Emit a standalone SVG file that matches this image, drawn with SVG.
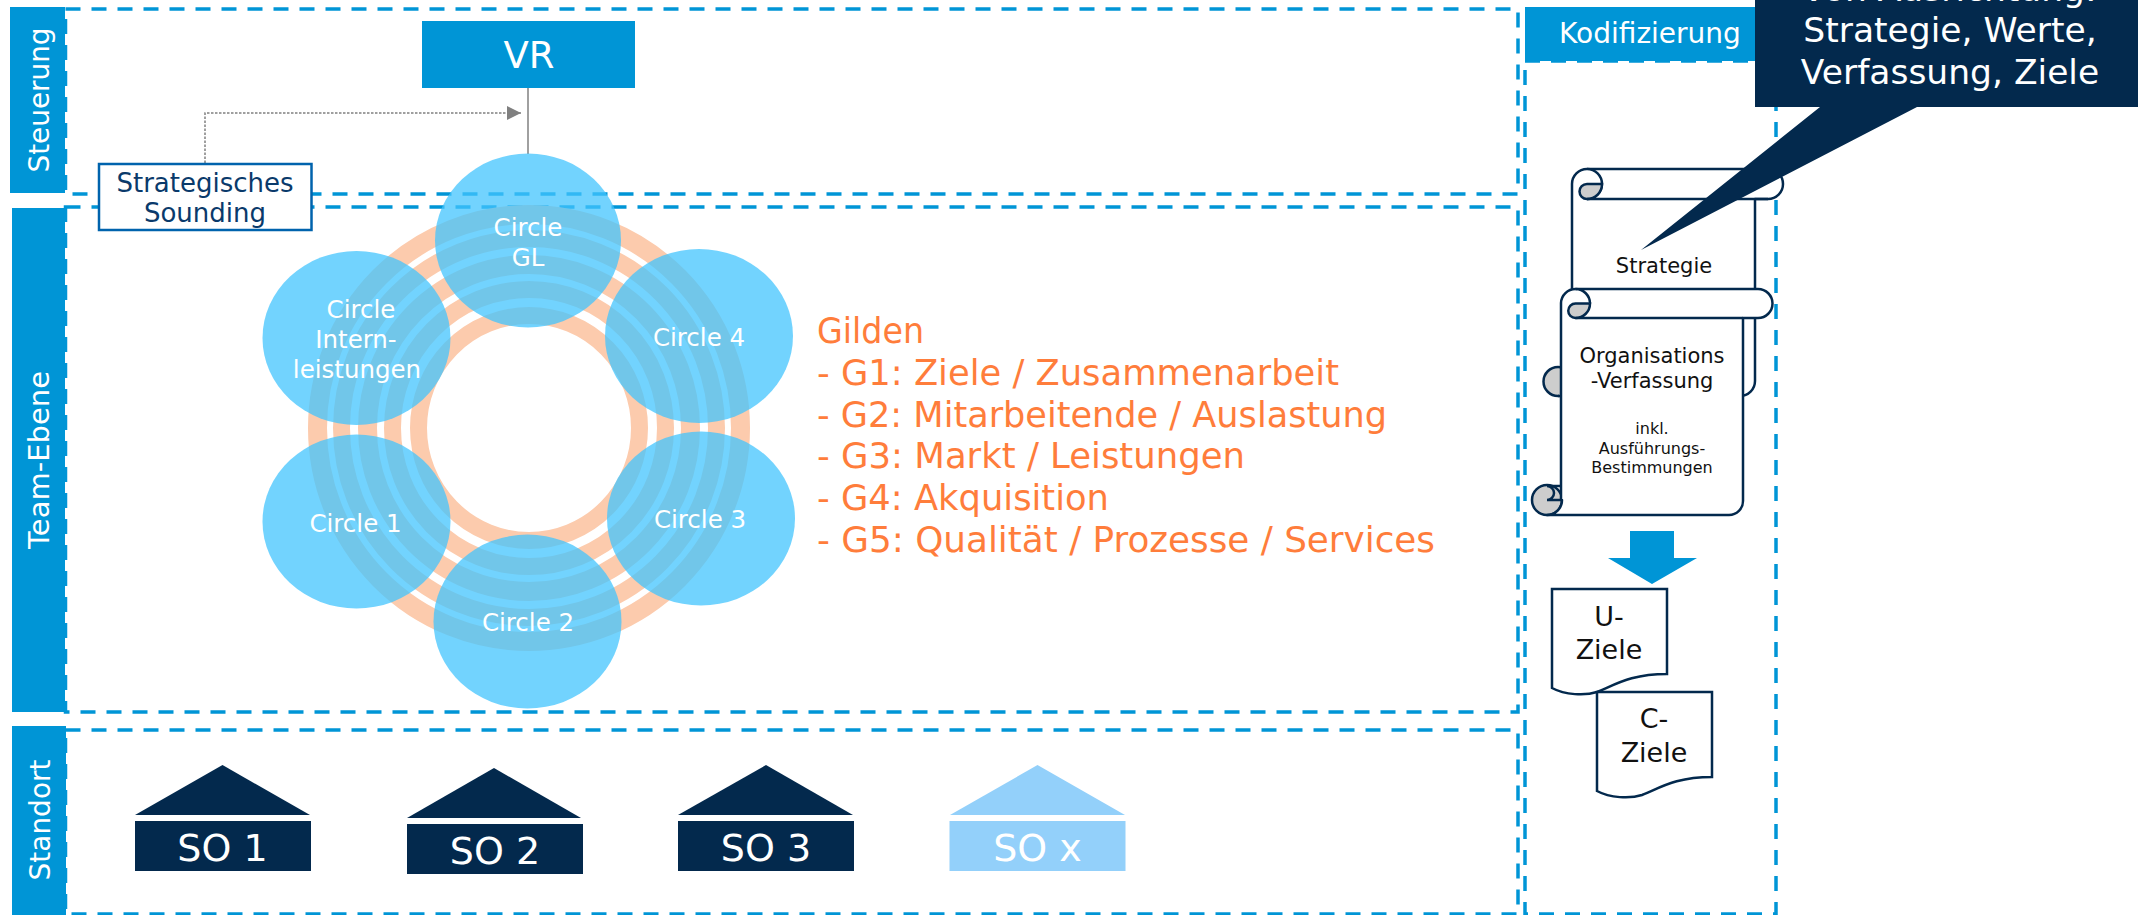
<svg xmlns="http://www.w3.org/2000/svg" width="2138" height="915" viewBox="0 0 2138 915">
<style>
text{font-family:"DejaVu Sans","Liberation Sans",sans-serif;text-anchor:middle}
.bar{fill:#0095d6}
.w{fill:#fff}
.lane{fill:none;stroke:#0095d6;stroke-width:3.5;stroke-dasharray:15 11}
.ring{fill:none;stroke:#fccbad}
.c{fill:#43c4fd;fill-opacity:.75}
.ct{fill:#fff;font-size:24.500px}
.scr{fill:#fff;stroke:#03294d;stroke-width:2.5;stroke-linejoin:round}
.cur{fill:#cdcdcd;stroke:#03294d;stroke-width:2.5}
.k{fill:#111;font-size:21px}
.doc{fill:#fff;stroke:#03294d;stroke-width:2.5}
.dt{fill:#111;font-size:27px}
.o{fill:#ff7d3b;font-size:35px;text-anchor:start}
.dk{fill:#03294d}
.lt{fill:#93d0fa}
.sot{fill:#fff;font-size:38px}
</style>
<defs>
<marker id="arr" markerUnits="userSpaceOnUse" markerWidth="14" markerHeight="14" refX="14" refY="7" orient="auto"><path d="M0,0L14,7L0,14Z" fill="#808080"/></marker>
</defs>
<rect width="2138" height="915" fill="#fff"/>

<g id="lanes">
<rect class="bar" x="10" y="7" width="55" height="186"/>
<rect class="bar" x="12" y="208" width="53" height="504"/>
<rect class="bar" x="12" y="726" width="54" height="189"/>
<rect class="bar" x="1525" y="7" width="251" height="54"/>
<rect class="lane" x="65.5" y="9" width="1452.5" height="185"/>
<rect class="lane" x="65.5" y="207" width="1452.5" height="505"/>
<rect class="lane" x="65.5" y="730" width="1452.5" height="184"/>
<rect class="lane" x="1525" y="61" width="251" height="853"/>
<text class="w" font-size="28" textLength="145" lengthAdjust="spacingAndGlyphs" transform="translate(49,100) rotate(-90)">Steuerung</text>
<text class="w" font-size="28" textLength="178" lengthAdjust="spacingAndGlyphs" transform="translate(49,460) rotate(-90)">Team-Ebene</text>
<text class="w" font-size="28" textLength="121" lengthAdjust="spacingAndGlyphs" transform="translate(50,820) rotate(-90)">Standort</text>
<text class="w" font-size="28" x="1650" y="43">Kodifizierung</text>
</g>

<g id="connectors">
<path d="M528,88V154" fill="none" stroke="#808080" stroke-width="1.5"/>
<path d="M205,163V113H521" fill="none" stroke="#808080" stroke-width="1.5" stroke-dasharray="2.5 1.5" marker-end="url(#arr)"/>
</g>

<g id="vr">
<rect x="422" y="21" width="213" height="67" fill="#0095d6"/>
<text class="w" font-size="37" x="529" y="68">VR</text>
</g>

<g id="gilden-ring">
<ellipse class="ring" cx="529" cy="428" rx="211.500" ry="213.500" stroke-width="19"/>
<ellipse class="ring" cx="529" cy="428" rx="187.500" ry="189.500" stroke-width="17"/>
<ellipse class="ring" cx="529" cy="428" rx="161.500" ry="163.500" stroke-width="19"/>
<ellipse class="ring" cx="529" cy="428" rx="136.500" ry="138.500" stroke-width="17"/>
<ellipse class="ring" cx="529" cy="428" rx="110.500" ry="112.500" stroke-width="17"/>
</g>

<g id="circle-gl">
<ellipse class="c" cx="528" cy="240.500" rx="93" ry="87"/>
<text class="ct" x="528" y="236">Circle</text>
<text class="ct" x="528" y="266">GL</text>
</g>
<g id="circle-intern">
<ellipse class="c" cx="356.500" cy="338" rx="94" ry="87"/>
<text class="ct" x="361" y="318">Circle</text>
<text class="ct" x="356" y="348">Intern-</text>
<text class="ct" x="357" y="378">leistungen</text>
</g>
<g id="circle-4">
<ellipse class="c" cx="699" cy="336" rx="94" ry="87"/>
<text class="ct" x="699" y="346">Circle 4</text>
</g>
<g id="circle-1">
<ellipse class="c" cx="356.500" cy="521.500" rx="94" ry="87"/>
<text class="ct" x="355.500" y="532">Circle 1</text>
</g>
<g id="circle-3">
<ellipse class="c" cx="701" cy="518.500" rx="94" ry="87"/>
<text class="ct" x="700" y="528">Circle 3</text>
</g>
<g id="circle-2">
<ellipse class="c" cx="527.500" cy="621.500" rx="94" ry="87"/>
<text class="ct" x="528" y="631">Circle 2</text>
</g>

<g id="sounding">
<rect x="99" y="164" width="212.500" height="66" fill="#fff" stroke="#0063ad" stroke-width="2.500"/>
<text x="205" y="192" font-size="26" fill="#0a3a6b">Strategisches</text>
<text x="205" y="222" font-size="26" fill="#0a3a6b">Sounding</text>
</g>

<g id="gilden-text">
<text class="o" x="817" y="343" textLength="107" lengthAdjust="spacingAndGlyphs">Gilden</text>
<text class="o" x="817" y="385" textLength="522" lengthAdjust="spacingAndGlyphs">- G1: Ziele / Zusammenarbeit</text>
<text class="o" x="817" y="427" textLength="570" lengthAdjust="spacingAndGlyphs">- G2: Mitarbeitende / Auslastung</text>
<text class="o" x="817" y="468" textLength="428" lengthAdjust="spacingAndGlyphs">- G3: Markt / Leistungen</text>
<text class="o" x="817" y="510" textLength="292" lengthAdjust="spacingAndGlyphs">- G4: Akquisition</text>
<text class="o" x="817" y="552" textLength="618" lengthAdjust="spacingAndGlyphs">- G5: Qualität / Prozesse / Services</text>
</g>

<g id="so-1">
<path class="dk" d="M135,815L222.500,765L310,815Z"/>
<rect class="dk" x="135" y="821" width="176" height="50"/>
<text class="sot" x="222.500" y="861">SO 1</text>
</g>
<g id="so-2">
<path class="dk" d="M407,818L494,768L581,818Z"/>
<rect class="dk" x="407" y="824" width="176" height="50"/>
<text class="sot" x="495" y="864">SO 2</text>
</g>
<g id="so-3">
<path class="dk" d="M678,815L766,765L853,815Z"/>
<rect class="dk" x="678" y="821" width="176" height="50"/>
<text class="sot" x="766" y="861">SO 3</text>
</g>
<g id="so-x">
<path class="lt" d="M950,815L1037.500,765L1125,815Z"/>
<rect class="lt" x="949.500" y="821" width="176" height="50"/>
<text class="sot" x="1037.500" y="861">SO x</text>
</g>

<g id="scroll-strategie">
<circle class="cur" cx="1558" cy="381.500" r="14.500"/>
<path class="scr" d="M1572,381V184A15,15 0 0 1 1587,169H1768A15,15 0 0 1 1768,199H1755V381A15,15 0 0 1 1740,396H1558"/>
<path class="scr" d="M1587,169A15,15 0 0 1 1587,199"/>
<path class="cur" d="M1587,199A7.500,7.500 0 0 1 1587,184H1602A15,15 0 0 1 1587,199Z"/>
<path d="M1587,199H1768" fill="none" stroke="#03294d" stroke-width="2.500"/>
<text class="k" x="1664" y="273">Strategie</text>
</g>

<g id="scroll-verfassung">
<circle class="cur" cx="1547" cy="500" r="15"/>
<path class="scr" d="M1561,500V303A14.500,14.500 0 0 1 1575.500,289H1758A14.500,14.500 0 0 1 1758,318H1743V501A14,14 0 0 1 1729,515H1547A15,15 0 0 0 1562,500Z"/>
<path class="cur" d="M1575.500,318A7.250,7.250 0 0 1 1575.500,303.500H1590A14.500,14.500 0 0 1 1575.500,318Z"/>
<path class="scr" d="M1575.500,289A14.500,14.500 0 0 1 1590,303.500"/>
<path d="M1575.500,318H1743" fill="none" stroke="#03294d" stroke-width="2.500"/>
<path d="M1547,486A7,7 0 0 1 1547,500H1561M1547,486H1561" fill="none" stroke="#03294d" stroke-width="2.500"/>
<text class="k" x="1652" y="363">Organisations</text>
<text class="k" x="1652" y="388">-Verfassung</text>
<text x="1652" y="434" font-size="16" fill="#111">inkl.</text>
<text x="1652" y="454" font-size="16" fill="#111">Ausführungs-</text>
<text x="1652" y="473" font-size="16" fill="#111">Bestimmungen</text>
</g>

<g id="arrow-down">
<path d="M1630,531H1674V558H1697L1652,584L1608,558H1630Z" fill="#0095d6"/>
</g>

<g id="u-ziele">
<path class="doc" d="M1552,589H1667V674C1630,674 1615,685 1597,692C1585,696 1565,695 1552,688Z"/>
<text class="dt" x="1609" y="626">U-</text>
<text class="dt" x="1609" y="659">Ziele</text>
</g>
<g id="c-ziele">
<path class="doc" d="M1597,692H1712V777C1675,777 1660,788 1642,795C1630,799 1610,798 1597,791Z"/>
<text class="dt" x="1654" y="728">C-</text>
<text class="dt" x="1654" y="762">Ziele</text>
</g>

<g id="callout">
<path class="dk" d="M1755,0H2138V107H1917L1641,250L1820,107H1755Z"/>
<text class="w" font-size="34.500" x="1950" y="0.500">von Ausrichtung:</text>
<text class="w" font-size="34.500" x="1950" y="42">Strategie, Werte,</text>
<text class="w" font-size="34.500" x="1950" y="84">Verfassung, Ziele</text>
</g>
</svg>
